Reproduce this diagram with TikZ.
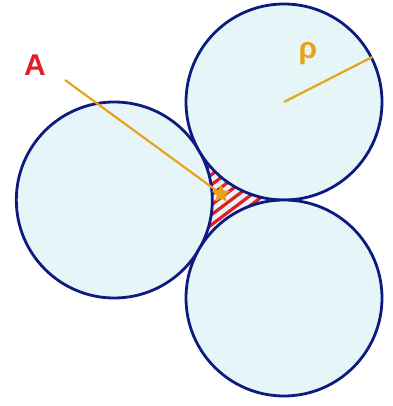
\documentclass[tikz,border=0pt]{standalone}
\usepackage{fontspec}
\setmainfont{Liberation Sans}
\usetikzlibrary{shapes.geometric}
\definecolor{cnavy}{HTML}{0D1B7E}
\definecolor{cfill}{HTML}{E6F5F8}
\definecolor{corange}{HTML}{E8A317}
\definecolor{cred}{HTML}{E41E26}
\tikzset{
  ball/.style={
    circle, draw=cnavy, fill=cfill, line width=2.8pt,
    minimum size=196pt, inner sep=0pt
  },
  ray/.style={draw=corange, line width=2.2pt},
  hatchline/.style={draw=cred, line width=3.2pt},
  lab/.style={font=\fontsize{30}{30}\selectfont\bfseries, text=#1, inner sep=0pt}
}

\begin{document}
\begin{tikzpicture}[x=1pt,y=1pt]
  \useasboundingbox (0,0) rectangle (392,406);
  % gap between the three balls
  \begin{scope}
    \clip (199.1,255) arc[start angle=30,end angle=-30,radius=98]
      arc[start angle=150,end angle=90,radius=98]
      arc[start angle=270,end angle=210,radius=98] -- cycle;
    \fill[cfill] (180,140) rectangle (300,270);
    \foreach \y in {60,70,...,280}
      \draw[hatchline] (170,\y) -- ++(37:200);
  \end{scope}
  % balls
  \node[ball] (ballL) at (114.3,206) {};
  \node[ball] (ballT) at (284,304) {};
  \node[ball] (ballB) at (284,108) {};
  % labels
  \node[lab=cred] (labA) at (35,341) {A};
  \node[lab=corange, font=\fontsize{30}{30}\selectfont\bfseries] (labRho) at (308,352) {ρ};
  \coordinate (tail) at (65,326);
  \node[star, star points=5, star point ratio=2.1, minimum size=19pt,
    inner sep=0pt, fill=corange] (tip) at (221,212) {};
  \draw[ray] (tail) -- (tip.center);
  \draw[ray] (ballT.center) -- (ballT.27);
\end{tikzpicture}
\end{document}
